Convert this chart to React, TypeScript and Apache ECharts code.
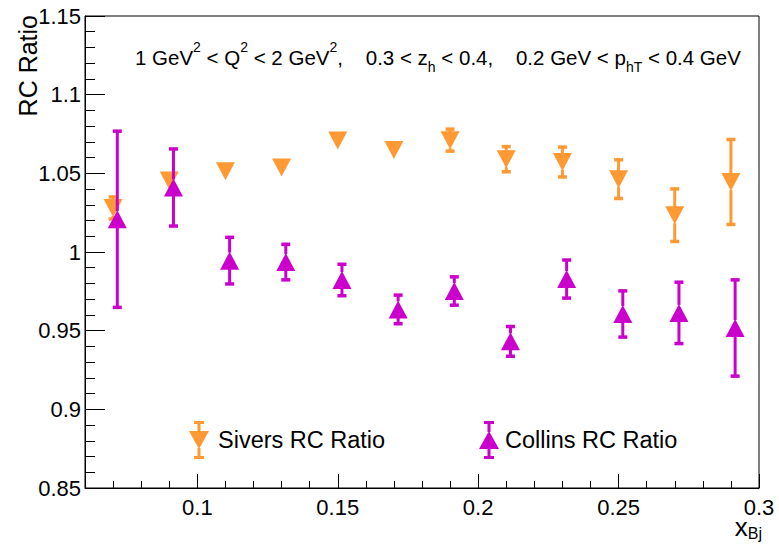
import React, { useEffect, useRef } from "react";
import * as echarts from "echarts";

const xSivers = [0.07, 0.09, 0.11, 0.13, 0.15, 0.17, 0.19, 0.21, 0.23, 0.25, 0.27, 0.29];
const siversY = [1.028, 1.0454, 1.0514, 1.0537, 1.0709, 1.0648, 1.0711, 1.059, 1.0572, 1.0463, 1.0234, 1.0445];
const siversErr = [0.007, 0.003, 0.002, 0.002, 0.003, 0.002, 0.007, 0.008, 0.0095, 0.0123, 0.0167, 0.027];

const xCollins = [0.0715, 0.0915, 0.1115, 0.1315, 0.1515, 0.1715, 0.1915, 0.2115, 0.2315, 0.2515, 0.2715, 0.2915];
const collinsY = [1.0208, 1.041, 0.9945, 0.9936, 0.9822, 0.9635, 0.9752, 0.9432, 0.9828, 0.9606, 0.9613, 0.9517];
const collinsErr = [0.056, 0.0245, 0.0148, 0.0113, 0.01, 0.0091, 0.009, 0.0095, 0.0121, 0.0147, 0.0195, 0.0306];

const xMajorTicks = [0.1, 0.15, 0.2, 0.25, 0.3];

const SIVERS = "Sivers RC Ratio";
const COLLINS = "Collins RC Ratio";
const ORANGE = "#ff9933";
const MAGENTA = "#cc00cc";
const FONT = "'Liberation Sans', Arial, Helvetica, sans-serif";

const ICON_DOWN =
  "path://M5,0h10v3h-10z M8.5,3h3v8h-3z M0,10h20l-10,18z M8.5,27h3v8h-3z M5,35h10v3h-10z";
const ICON_UP =
  "path://M5,0h10v3h-10z M8.5,3h3v8h-3z M10,10l10,18h-20z M8.5,27h3v8h-3z M5,35h10v3h-10z";

const MARKER_HALF = 9;

function errRender(color: string) {
  return (params: any, api: any) => {
    const x = api.value(0);
    const y = api.value(1);
    const e = api.value(2);
    const c = api.coord([x, y]);
    const p1 = api.coord([x, y + e]);
    const p2 = api.coord([x, y - e]);
    const capW = 9;
    const capH = 3.5;
    const children: any[] = [];
    if (c[1] - p1[1] > MARKER_HALF) {
      children.push(
        {
          type: "line",
          shape: { x1: p1[0], y1: p1[1], x2: c[0], y2: c[1] - MARKER_HALF + 1 },
          style: { stroke: color, lineWidth: 3 },
        },
        {
          type: "rect",
          shape: { x: p1[0] - capW / 2, y: p1[1] - capH / 2, width: capW, height: capH },
          style: { fill: color },
        }
      );
    }
    if (p2[1] - c[1] > MARKER_HALF) {
      children.push(
        {
          type: "line",
          shape: { x1: c[0], y1: c[1] + MARKER_HALF - 1, x2: p2[0], y2: p2[1] },
          style: { stroke: color, lineWidth: 3 },
        },
        {
          type: "rect",
          shape: { x: p2[0] - capW / 2, y: p2[1] - capH / 2, width: capW, height: capH },
          style: { fill: color },
        }
      );
    }
    return { type: "group", children };
  };
}

export default function App() {
  const ref = useRef<HTMLDivElement>(null);
  useEffect(() => {
    const chart = echarts.init(ref.current as HTMLDivElement, null, { renderer: "svg" });
    const sivData = xSivers.map((x, i) => [x, siversY[i], siversErr[i]]);
    const colData = xCollins.map((x, i) => [x, collinsY[i], collinsErr[i]]);

    const tickLabelStyle = { fontSize: 22, color: "#000", fontFamily: FONT };

    chart.setOption({
      animation: false,
      backgroundColor: "#fff",
      title: {
        left: 135,
        top: 40,
        padding: 0,
        text: "1 GeV{sup|2} < Q{sup|2} < 2 GeV{sup|2},    0.3 < z{sub|h} < 0.4,    0.2 GeV < p{sub|hT} < 0.4 GeV",
        textStyle: {
          fontFamily: FONT,
          fontSize: 20.5,
          fontWeight: "normal",
          color: "#000",
          lineHeight: 34,
          rich: {
            sup: { fontFamily: FONT, fontSize: 14, color: "#000", verticalAlign: "top", lineHeight: 23 },
            sub: { fontFamily: FONT, fontSize: 14, color: "#000", verticalAlign: "bottom", lineHeight: 14 },
          },
        },
      },
      grid: {
        left: 85,
        right: 20,
        top: 16,
        bottom: 60,
        show: true,
        borderColor: "#000",
        borderWidth: 1,
        backgroundColor: "transparent",
        containLabel: false,
        outerBoundsMode: "none",
      },
      legend: [
        {
          left: 189,
          top: 421,
          padding: 0,
          itemWidth: 20,
          itemHeight: 38,
          symbolRotate: 0,
          data: [{ name: SIVERS, icon: ICON_DOWN }],
          textStyle: { fontSize: 23.5, color: "#000", fontFamily: FONT, padding: [0, 0, 0, 4] },
        },
        {
          left: 479,
          top: 421,
          padding: 0,
          itemWidth: 20,
          itemHeight: 38,
          symbolRotate: 0,
          data: [{ name: COLLINS, icon: ICON_UP }],
          textStyle: { fontSize: 23.5, color: "#000", fontFamily: FONT, padding: [0, 0, 0, 1] },
        },
      ],
      xAxis: [
        {
          type: "value",
          min: 0.06,
          max: 0.3,
          interval: 0.01,
          axisLine: { show: true, onZero: false, lineStyle: { color: "#000", width: 1 } },
          axisTick: { show: true, inside: true, length: 7, lineStyle: { color: "#000", width: 1 } },
          splitLine: { show: false },
          axisLabel: {
            ...tickLabelStyle,
            margin: 8,
            showMinLabel: true,
            showMaxLabel: true,
            formatter: (v: number) => {
              const k = Math.round(v * 100);
              return k % 5 === 0 ? String(k / 100) : "";
            },
          },
        },
        {
          type: "value",
          min: 0.06,
          max: 0.3,
          position: "bottom",
          axisLine: { show: false },
          axisTick: {
            show: true,
            inside: true,
            length: 14,
            customValues: xMajorTicks,
            lineStyle: { color: "#000", width: 1 },
          },
          axisLabel: { show: false },
          splitLine: { show: false },
        },
      ],
      yAxis: {
        type: "value",
        min: 0.85,
        max: 1.15,
        interval: 0.05,
        axisLine: { show: true, onZero: false, lineStyle: { color: "#000", width: 1 } },
        axisTick: { show: true, inside: true, length: 20, lineStyle: { color: "#000", width: 1 } },
        minorTick: { show: true, splitNumber: 5, length: 10, lineStyle: { color: "#000", width: 1 } },
        splitLine: { show: false },
        minorSplitLine: { show: false },
        axisLabel: { ...tickLabelStyle, margin: 4 },
      },
      graphic: [
        {
          type: "text",
          x: 28,
          y: 15,
          rotation: Math.PI / 2,
          style: {
            text: "RC Ratio",
            fontSize: 25,
            fontFamily: FONT,
            fill: "#000",
            align: "right",
            verticalAlign: "middle",
          },
        },
        {
          type: "text",
          x: 762,
          y: 513,
          style: {
            text: "x{sub|Bj}",
            fontSize: 26,
            fontFamily: FONT,
            fill: "#000",
            align: "right",
            verticalAlign: "top",
            rich: {
              sub: { fontSize: 16, fontFamily: FONT, fill: "#000", verticalAlign: "bottom", padding: [12, 0, 0, 0] },
            },
          },
        },
      ],
      series: [
        {
          name: "sivers-err",
          type: "custom",
          z: 1,
          data: sivData,
          encode: { x: 0, y: 1 },
          renderItem: errRender(ORANGE),
        },
        {
          name: SIVERS,
          type: "scatter",
          z: 2,
          symbol: "triangle",
          symbolSize: [19, 18],
          symbolRotate: 180,
          itemStyle: { color: ORANGE, opacity: 1 },
          data: xSivers.map((x, i) => [x, siversY[i]]),
        },
        {
          name: "collins-err",
          type: "custom",
          z: 3,
          data: colData,
          encode: { x: 0, y: 1 },
          renderItem: errRender(MAGENTA),
        },
        {
          name: COLLINS,
          type: "scatter",
          z: 4,
          symbol: "triangle",
          symbolSize: [19, 18],
          itemStyle: { color: MAGENTA, opacity: 1 },
          data: xCollins.map((x, i) => [x, collinsY[i]]),
        },
      ],
    });
    return () => chart.dispose();
  }, []);
  return (
    <div
      ref={ref}
      style={{ position: "absolute", left: 0, top: 0, width: 779, height: 548, background: "#fff" }}
    />
  );
}
